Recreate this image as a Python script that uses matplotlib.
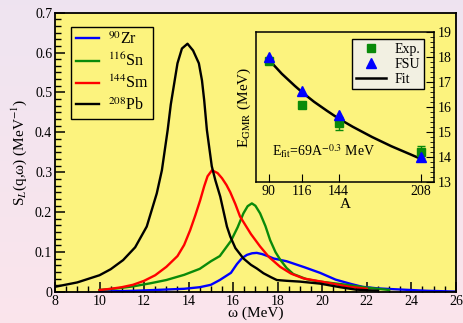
import numpy as np
import matplotlib
matplotlib.use("Agg")
import matplotlib.pyplot as plt
from matplotlib.ticker import MultipleLocator, AutoMinorLocator, FixedLocator

plt.rcParams['font.family'] = ['Liberation Serif', 'DejaVu Serif']
plt.rcParams['mathtext.fontset'] = 'stix'

# main panel: strength functions S_L(q,w)
w_zr = [10, 11.5, 12.5, 13.8, 14.5, 15.0, 15.4, 15.9, 16.17, 16.4, 16.62, 16.85, 17.06, 17.3,
        17.6, 17.81, 18.4, 19.2, 19.9, 20.6, 21.3, 21.8, 22.5, 23.2, 24.7, 26]
s_zr = [0.001, 0.003, 0.005, 0.008, 0.012, 0.018, 0.030, 0.048, 0.070, 0.085, 0.093, 0.097, 0.098, 0.095,
        0.089, 0.084, 0.077, 0.062, 0.048, 0.031, 0.020, 0.013, 0.009, 0.007, 0.003, 0.001]

w_sn = [10, 10.8, 11.5, 12.3, 13.0, 13.8, 14.5, 15.0, 15.4, 15.9, 16.2, 16.46, 16.65, 16.84,
        17.0, 17.21, 17.45, 17.66, 17.9, 18.1, 18.4, 18.7, 19.3, 19.9, 21.1, 22.0, 23.0]
s_sn = [0.005, 0.009, 0.014, 0.022, 0.030, 0.043, 0.058, 0.077, 0.090, 0.128, 0.162, 0.197, 0.215, 0.222,
        0.216, 0.197, 0.165, 0.130, 0.100, 0.082, 0.060, 0.045, 0.032, 0.026, 0.018, 0.011, 0.005]

w_sm = [10, 10.5, 11, 11.5, 12, 12.5, 13, 13.5, 13.8, 14.07, 14.3, 14.52, 14.7, 14.85, 15.05,
        15.3, 15.5, 15.7, 15.87, 16.1, 16.31, 16.8, 17.21, 17.6, 18.11, 18.6, 19.16, 20.36, 21.2, 22.0]
s_sm = [0.005, 0.008, 0.012, 0.018, 0.028, 0.042, 0.063, 0.090, 0.118, 0.155, 0.192, 0.230, 0.265, 0.290, 0.305,
        0.298, 0.285, 0.268, 0.250, 0.220, 0.189, 0.145, 0.114, 0.088, 0.063, 0.046, 0.034, 0.022, 0.013, 0.008]

w_pb = [8, 9, 10, 10.5, 11.06, 11.6, 12.12, 12.57, 12.8, 13.06, 13.2, 13.5, 13.7, 13.95, 14.2,
        14.46, 14.6, 14.7, 14.82, 15.04, 15.2, 15.42, 15.72, 15.87, 16.1, 16.46, 16.8, 17.06, 17.36,
        17.7, 17.96, 18.41, 19.0, 19.9, 20.8, 21.5, 22.5]
s_pb = [0.013, 0.024, 0.042, 0.057, 0.080, 0.112, 0.164, 0.247, 0.305, 0.406, 0.470, 0.573, 0.610, 0.622, 0.605,
        0.573, 0.530, 0.480, 0.406, 0.315, 0.280, 0.239, 0.164, 0.139, 0.110, 0.084, 0.068, 0.059, 0.047,
        0.037, 0.030, 0.028, 0.026, 0.021, 0.012, 0.006, 0.003]

labels = ['$^{90}$Zr', '$^{116}$Sn', '$^{144}$Sm', '$^{208}$Pb']
colors = ['#0000ff', '#0a8a0a', '#ff0000', '#000000']

# inset: GMR centroid energies
A = [90, 116, 144, 208]
e_exp = [17.85, 16.1, 15.35, 14.2]
e_exp_err = [0.0, 0.0, 0.25, 0.25]
e_fsu = [18.02, 16.63, 15.68, 14.0]
a_fit = [90, 100, 110, 116, 125, 135, 144, 155, 170, 185, 200, 208]
e_fit = [17.89, 17.33, 16.85, 16.58, 16.21, 15.85, 15.54, 15.21, 14.80, 14.43, 14.10, 13.92]

bg = '#fcf37e'

fig = plt.figure(figsize=(4.64, 3.23), dpi=100)
# soft lavender -> pink backdrop
bgax = fig.add_axes([0, 0, 1, 1], zorder=-10)
grad = np.linspace(0, 1, 64)[:, None, None]
top = np.array([0.937, 0.894, 0.945])
bot = np.array([0.984, 0.898, 0.925])
bgax.imshow(top * (1 - grad) + bot * grad, aspect='auto', extent=[0, 1, 0, 1])
bgax.axis('off')

ax = fig.add_axes([0.1185, 0.096, 0.864, 0.865])
ax.set_facecolor(bg)
for w, s, lab, c in zip([w_zr, w_sn, w_sm, w_pb], [s_zr, s_sn, s_sm, s_pb], labels, colors):
    ax.plot(w, s, color=c, lw=1.7, label=lab, solid_joinstyle='round')

ax.set_xlim(8, 26)
ax.set_ylim(0, 0.7)
ax.xaxis.set_major_locator(MultipleLocator(2))
ax.xaxis.set_minor_locator(MultipleLocator(0.5))
ax.yaxis.set_major_locator(MultipleLocator(0.1))
ax.yaxis.set_minor_locator(AutoMinorLocator(6))
ax.yaxis.set_major_formatter(plt.FuncFormatter(lambda v, p: '0' if abs(v) < 1e-9 else f'{v:.1f}'))
ax.tick_params(which='major', direction='in', length=7, width=1.1, labelsize=10, pad=2)
ax.tick_params(which='minor', direction='in', length=4, width=1.0)
for sp in ax.spines.values():
    sp.set_linewidth(1.3)
ax.set_xlabel('ω (MeV)', fontsize=11, labelpad=-1)
ax.set_ylabel('S$_L$(q,ω) (MeV$^{-1}$)', fontsize=11, labelpad=4)

leg = ax.legend(loc='upper left', bbox_to_anchor=(0.04, 0.95), borderaxespad=0, fontsize=11.5,
                frameon=True, fancybox=False, edgecolor='black', facecolor=bg, framealpha=1,
                handlelength=1.45, labelspacing=0.3, borderpad=0.3, handletextpad=0.55)
leg.get_frame().set_linewidth(1.0)

# inset
ins = fig.add_axes([0.5517, 0.4365, 0.3836, 0.4644])
ins.set_facecolor(bg)
h_exp = ins.errorbar(A, e_exp, yerr=e_exp_err, fmt='s', color='#0a8a0a', ms=5.5, capsize=3,
                     elinewidth=1.0, zorder=3)
h_fsu, = ins.plot(A, e_fsu, '^', color='#0000ff', ms=7, zorder=4)
h_fit, = ins.plot(a_fit, e_fit, '-', color='black', lw=1.8, zorder=2)
ins.set_xlim(80, 218)
ins.set_ylim(13, 19)
ins.xaxis.set_major_locator(FixedLocator(A))
ins.yaxis.set_major_locator(MultipleLocator(1))
ins.yaxis.set_minor_locator(MultipleLocator(0.2))
ins.yaxis.tick_right()
ins.tick_params(axis='x', which='major', direction='in', length=6, labelsize=10, pad=2)
ins.tick_params(axis='y', which='major', direction='in', length=6, labelsize=10, pad=3)
ins.tick_params(axis='y', which='minor', direction='in', length=3)
for sp in ins.spines.values():
    sp.set_linewidth(1.1)
ins.set_xlabel('A', fontsize=11, labelpad=0)
ins.set_ylabel('E$_{\\mathrm{GMR}}$ (MeV)', fontsize=11, labelpad=2)
ins.yaxis.set_label_position('left')
ins.text(0.09, 0.17, 'E$_{\\mathrm{fit}}$=69A$^{-0.3}$ MeV', transform=ins.transAxes, fontsize=10)
l2 = ins.legend([h_exp[0], h_fsu, h_fit], ['Exp.', 'FSU', 'Fit'], loc='upper right',
                bbox_to_anchor=(0.944, 0.953), borderaxespad=0, fontsize=10, frameon=True,
                fancybox=False, edgecolor='black', facecolor='#f2f0e2', framealpha=1,
                handlelength=2.2, labelspacing=0.15, borderpad=0.25, handletextpad=0.6,
                numpoints=1)
l2.get_frame().set_linewidth(1.0)

fig.savefig('out.png', dpi=100)
